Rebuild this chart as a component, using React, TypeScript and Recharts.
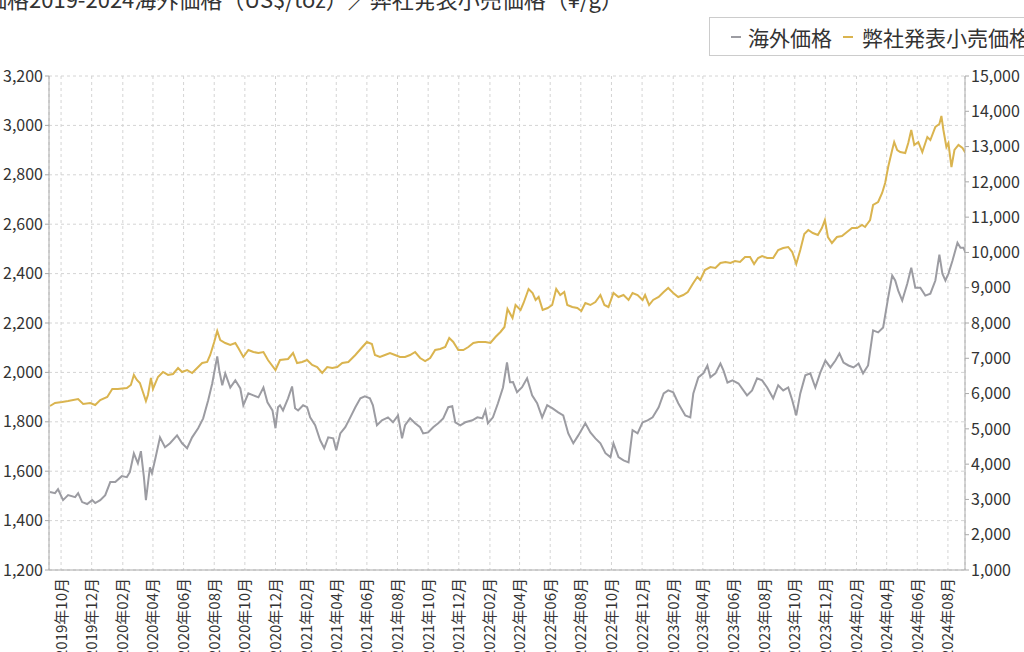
import { LineChart, Line, XAxis, YAxis, CartesianGrid } from 'recharts'

// 海外価格 (US$/toz)
const overseasDates = [
  '2019-09-09', '2019-09-19', '2019-09-25', '2019-10-05', '2019-10-15', '2019-10-29', '2019-11-04', '2019-11-12',
  '2019-11-22', '2019-12-02', '2019-12-08', '2019-12-18', '2019-12-28', '2020-01-07', '2020-01-17', '2020-01-30',
  '2020-02-09', '2020-02-15', '2020-02-23', '2020-03-02', '2020-03-08', '2020-03-14', '2020-03-18', '2020-03-26',
  '2020-03-30', '2020-04-05', '2020-04-15', '2020-04-25', '2020-05-05', '2020-05-19', '2020-05-29', '2020-06-08',
  '2020-06-18', '2020-06-30', '2020-07-10', '2020-07-20', '2020-07-28', '2020-08-07', '2020-08-11', '2020-08-17',
  '2020-08-23', '2020-09-02', '2020-09-12', '2020-09-22', '2020-09-28', '2020-10-08', '2020-10-18', '2020-10-28',
  '2020-11-07', '2020-11-15', '2020-11-25', '2020-12-01', '2020-12-06', '2020-12-10', '2020-12-16', '2020-12-26',
  '2021-01-03', '2021-01-09', '2021-01-15', '2021-01-25', '2021-02-02', '2021-02-08', '2021-02-18', '2021-02-28',
  '2021-03-08', '2021-03-16', '2021-03-26', '2021-04-01', '2021-04-09', '2021-04-19', '2021-04-29', '2021-05-09',
  '2021-05-19', '2021-05-28', '2021-06-07', '2021-06-13', '2021-06-21', '2021-07-01', '2021-07-13', '2021-07-23',
  '2021-08-02', '2021-08-10', '2021-08-16', '2021-08-26', '2021-09-05', '2021-09-15', '2021-09-21', '2021-10-01',
  '2021-10-11', '2021-10-21', '2021-10-31', '2021-11-10', '2021-11-18', '2021-11-24', '2021-12-04', '2021-12-14',
  '2021-12-28', '2022-01-07', '2022-01-17', '2022-01-23', '2022-01-28', '2022-02-07', '2022-02-17', '2022-02-27',
  '2022-03-07', '2022-03-13', '2022-03-19', '2022-03-27', '2022-04-06', '2022-04-16', '2022-04-26', '2022-05-06',
  '2022-05-16', '2022-05-26', '2022-06-05', '2022-06-17', '2022-06-27', '2022-07-07', '2022-07-17', '2022-07-27',
  '2022-08-10', '2022-08-20', '2022-08-30', '2022-09-09', '2022-09-19', '2022-09-29', '2022-10-05', '2022-10-15',
  '2022-10-25', '2022-11-04', '2022-11-12', '2022-11-22', '2022-12-02', '2022-12-12', '2022-12-22', '2023-01-03',
  '2023-01-13', '2023-01-22', '2023-02-01', '2023-02-11', '2023-02-25', '2023-03-07', '2023-03-13', '2023-03-23',
  '2023-04-02', '2023-04-10', '2023-04-16', '2023-04-26', '2023-05-06', '2023-05-12', '2023-05-20', '2023-05-30',
  '2023-06-11', '2023-06-28', '2023-07-08', '2023-07-18', '2023-07-28', '2023-08-07', '2023-08-19', '2023-08-29',
  '2023-09-08', '2023-09-18', '2023-09-26', '2023-10-04', '2023-10-12', '2023-10-22', '2023-11-01', '2023-11-11',
  '2023-11-21', '2023-12-01', '2023-12-11', '2023-12-21', '2023-12-29', '2024-01-06', '2024-01-16', '2024-01-26',
  '2024-02-05', '2024-02-14', '2024-02-24', '2024-03-05', '2024-03-15', '2024-03-25', '2024-04-04', '2024-04-12',
  '2024-04-18', '2024-04-24', '2024-05-02', '2024-05-12', '2024-05-20', '2024-05-28', '2024-06-07', '2024-06-17',
  '2024-06-27', '2024-07-07', '2024-07-15', '2024-07-21', '2024-07-27', '2024-08-02', '2024-08-10', '2024-08-20',
  '2024-08-26', '2024-09-01', '2024-09-05',
]
const overseasPrices = [
  1516, 1511, 1527, 1483, 1503, 1495, 1511, 1475,
  1467, 1483, 1471, 1483, 1503, 1556, 1556, 1580,
  1576, 1596, 1672, 1632, 1681, 1576, 1483, 1616,
  1592, 1644, 1737, 1697, 1713, 1745, 1713, 1693,
  1737, 1774, 1814, 1887, 1955, 2065, 2008, 1948,
  1996, 1939, 1968, 1935, 1867, 1915, 1907, 1899,
  1939, 1879, 1846, 1774, 1859, 1867, 1846, 1895,
  1943, 1855, 1846, 1867, 1859, 1818, 1786, 1725,
  1693, 1737, 1733, 1685, 1753, 1778, 1818, 1859,
  1895, 1903, 1895, 1867, 1786, 1806, 1818, 1798,
  1826, 1733, 1786, 1814, 1794, 1778, 1753, 1757,
  1778, 1794, 1814, 1859, 1863, 1798, 1786, 1798,
  1806, 1818, 1814, 1846, 1794, 1818, 1875, 1939,
  2040, 1960, 1961, 1920, 1940, 1976, 1907, 1875,
  1818, 1867, 1855, 1838, 1826, 1753, 1713, 1745,
  1794, 1757, 1733, 1713, 1673, 1657, 1713, 1657,
  1644, 1636, 1766, 1753, 1798, 1806, 1818, 1859,
  1915, 1927, 1919, 1875, 1826, 1818, 1915, 1980,
  1996, 2028, 1980, 1996, 2036, 2008, 1959, 1968,
  1955, 1907, 1927, 1976, 1968, 1939, 1895, 1948,
  1927, 1939, 1887, 1826, 1915, 1988, 1996, 1939,
  2000, 2048, 2020, 2048, 2077, 2040, 2028, 2020,
  2036, 1996, 2028, 2170, 2162, 2182, 2303, 2392,
  2372, 2331, 2291, 2359, 2424, 2343, 2343, 2311,
  2319, 2372, 2477, 2400, 2372, 2400, 2452, 2525,
  2505, 2505, 2485,
]

// 弊社発表小売価格 (¥/g)
const retailDates = [
  '2019-09-09', '2019-09-19', '2019-10-03', '2019-10-15', '2019-11-04', '2019-11-14', '2019-11-28', '2019-12-08',
  '2019-12-18', '2020-01-01', '2020-01-11', '2020-01-22', '2020-02-09', '2020-02-17', '2020-02-23', '2020-02-29',
  '2020-03-06', '2020-03-12', '2020-03-18', '2020-03-22', '2020-03-28', '2020-04-01', '2020-04-11', '2020-04-21',
  '2020-05-01', '2020-05-11', '2020-05-21', '2020-05-29', '2020-06-08', '2020-06-18', '2020-06-28', '2020-07-08',
  '2020-07-18', '2020-07-24', '2020-08-01', '2020-08-07', '2020-08-13', '2020-08-23', '2020-09-02', '2020-09-12',
  '2020-09-18', '2020-09-28', '2020-10-08', '2020-10-18', '2020-10-28', '2020-11-07', '2020-11-16', '2020-12-01',
  '2020-12-10', '2020-12-26', '2021-01-05', '2021-01-13', '2021-01-23', '2021-02-02', '2021-02-12', '2021-02-22',
  '2021-03-04', '2021-03-14', '2021-03-24', '2021-04-03', '2021-04-13', '2021-04-25', '2021-05-09', '2021-05-23',
  '2021-06-01', '2021-06-11', '2021-06-17', '2021-06-27', '2021-07-07', '2021-07-17', '2021-07-27', '2021-08-06',
  '2021-08-16', '2021-08-26', '2021-09-05', '2021-09-15', '2021-09-25', '2021-10-05', '2021-10-15', '2021-10-25',
  '2021-11-04', '2021-11-12', '2021-11-20', '2021-11-30', '2021-12-10', '2021-12-20', '2021-12-30', '2022-01-09',
  '2022-01-23', '2022-02-02', '2022-02-12', '2022-02-22', '2022-03-02', '2022-03-08', '2022-03-18', '2022-03-24',
  '2022-04-03', '2022-04-09', '2022-04-19', '2022-04-27', '2022-05-03', '2022-05-09', '2022-05-17', '2022-05-27',
  '2022-06-05', '2022-06-13', '2022-06-21', '2022-06-29', '2022-07-05', '2022-07-15', '2022-07-25', '2022-08-02',
  '2022-08-10', '2022-08-20', '2022-08-30', '2022-09-09', '2022-09-17', '2022-09-25', '2022-10-05', '2022-10-15',
  '2022-10-25', '2022-11-04', '2022-11-12', '2022-11-22', '2022-12-02', '2022-12-07', '2022-12-15', '2022-12-23',
  '2023-01-03', '2023-01-13', '2023-01-22', '2023-02-01', '2023-02-11', '2023-02-21', '2023-03-02', '2023-03-13',
  '2023-03-21', '2023-03-27', '2023-04-05', '2023-04-16', '2023-04-26', '2023-05-06', '2023-05-16', '2023-05-26',
  '2023-06-04', '2023-06-14', '2023-06-24', '2023-07-04', '2023-07-12', '2023-07-20', '2023-07-28', '2023-08-07',
  '2023-08-19', '2023-08-29', '2023-09-08', '2023-09-18', '2023-09-26', '2023-10-04', '2023-10-12', '2023-10-20',
  '2023-10-28', '2023-11-06', '2023-11-16', '2023-11-24', '2023-11-30', '2023-12-06', '2023-12-14', '2023-12-24',
  '2024-01-03', '2024-01-13', '2024-01-23', '2024-02-02', '2024-02-12', '2024-02-18', '2024-02-28', '2024-03-05',
  '2024-03-15', '2024-03-23', '2024-03-29', '2024-04-04', '2024-04-12', '2024-04-16', '2024-04-22', '2024-04-28',
  '2024-05-08', '2024-05-14', '2024-05-20', '2024-05-26', '2024-06-03', '2024-06-11', '2024-06-21', '2024-06-27',
  '2024-07-07', '2024-07-15', '2024-07-19', '2024-07-23', '2024-07-29', '2024-08-02', '2024-08-08', '2024-08-14',
  '2024-08-22', '2024-08-30', '2024-09-05',
]
const retailPrices = [
  5648, 5733, 5761, 5790, 5846, 5704, 5733, 5676,
  5818, 5903, 6130, 6130, 6158, 6243, 6527, 6385,
  6300, 6045, 5790, 5960, 6441, 6130, 6470, 6611,
  6527, 6555, 6725, 6611, 6668, 6583, 6725, 6866,
  6895, 7093, 7462, 7773, 7518, 7433, 7377, 7433,
  7292, 7037, 7235, 7178, 7150, 7178, 6951, 6668,
  6951, 6980, 7150, 6866, 6895, 6951, 6810, 6753,
  6583, 6753, 6725, 6753, 6866, 6895, 7093, 7320,
  7462, 7405, 7093, 7037, 7093, 7150, 7093, 7037,
  7037, 7093, 7178, 7008, 6923, 7008, 7235, 7263,
  7320, 7575, 7462, 7235, 7235, 7320, 7433, 7462,
  7462, 7433, 7603, 7745, 7887, 8397, 8142, 8510,
  8368, 8567, 8964, 8850, 8652, 8737, 8368, 8425,
  8510, 8964, 8793, 8878, 8510, 8453, 8425, 8340,
  8567, 8510, 8595, 8793, 8510, 8453, 8850, 8737,
  8793, 8652, 8850, 8793, 8652, 8793, 8510, 8652,
  8737, 8878, 8992, 8850, 8737, 8793, 8878, 9134,
  9304, 9219, 9502, 9587, 9559, 9701, 9729, 9701,
  9757, 9729, 9870, 9870, 9672, 9842, 9899, 9842,
  9842, 10069, 10125, 10154, 10012, 9672, 10069, 10522,
  10636, 10551, 10494, 10692, 10919, 10437, 10267, 10437,
  10466, 10579, 10692, 10692, 10777, 10721, 10919, 11344,
  11429, 11684, 11968, 12421, 12903, 13130, 12903, 12846,
  12818, 13101, 13470, 13045, 13130, 12846, 13271, 13186,
  13555, 13640, 13867, 13470, 12988, 13101, 12421, 12903,
  13045, 12960, 12818,
]

const monthTicks = [
  '2019-10', '2019-12', '2020-02', '2020-04', '2020-06', '2020-08', '2020-10', '2020-12',
  '2021-02', '2021-04', '2021-06', '2021-08', '2021-10', '2021-12', '2022-02', '2022-04',
  '2022-06', '2022-08', '2022-10', '2022-12', '2023-02', '2023-04', '2023-06', '2023-08',
  '2023-10', '2023-12', '2024-02', '2024-04', '2024-06', '2024-08',
]
const leftTicks = [1200, 1400, 1600, 1800, 2000, 2200, 2400, 2600, 2800, 3000, 3200]
const rightTicks = [1000, 2000, 3000, 4000, 5000, 6000, 7000, 8000, 9000, 10000, 11000, 12000, 13000, 14000, 15000]

const FONT = '"Noto Sans CJK JP", "Noto Sans", sans-serif'
const GRAY = '#9c9ca2'
const GOLD = '#dab44f'

const toTime = (d: string) => Date.parse(d)
const overseasData = overseasDates.map((d, i) => ({ t: toTime(d), price: overseasPrices[i] }))
const retailData = retailDates.map((d, i) => ({ t: toTime(d), price: retailPrices[i] }))
const xTicks = monthTicks.map((m) => toTime(m + '-01'))

const monthLabel = (v: number) => {
  const d = new Date(v)
  return `${d.getUTCFullYear()}年${String(d.getUTCMonth() + 1).padStart(2, '0')}月`
}

const MonthTick = ({ x, y, payload }: any) => (
  <text
    transform={`translate(${x - 1},${y}) rotate(-90)`}
    textAnchor="end"
    dominantBaseline="central"
    fontSize={15}
    fontFamily={FONT}
    fill="#333"
  >
    {monthLabel(payload.value)}
  </text>
)

const numFmt = (v: number) => v.toLocaleString('en-US')

export default function App() {
  const tick = { fill: '#333', fontSize: 16, fontFamily: FONT }
  return (
    <div style={{ position: 'fixed', left: 0, top: 0, width: 1024, height: 652, overflow: 'hidden', background: '#fff' }}>
      <LineChart width={1024} height={652} margin={{ top: 76, right: 0, bottom: 0, left: 0 }}>
        <CartesianGrid yAxisId="left" stroke="#d4d4d4" strokeDasharray="3 3" />
        <XAxis
          dataKey="t"
          type="number"
          domain={[toTime('2019-09-07'), toTime('2024-09-04')]}
          allowDataOverflow
          ticks={xTicks}
          tick={<MonthTick />}
          tickLine={false}
          interval={0}
          height={82}
          stroke="#aaa"
        />
        <YAxis
          yAxisId="left"
          orientation="left"
          domain={[1200, 3200]}
          ticks={leftTicks}
          tickFormatter={numFmt}
          tick={tick}
          width={49}
          tickSize={4}
          tickMargin={2}
          stroke="#aaa"
          interval={0}
        />
        <YAxis
          yAxisId="right"
          orientation="right"
          domain={[1000, 15000]}
          ticks={rightTicks}
          tickFormatter={numFmt}
          tick={tick}
          width={59}
          tickSize={4}
          tickMargin={2}
          stroke="#aaa"
          interval={0}
        />
        <Line
          yAxisId="left"
          data={overseasData}
          dataKey="price"
          name="海外価格"
          stroke={GRAY}
          strokeWidth={2}
          dot={false}
          type="linear"
          isAnimationActive={false}
        />
        <Line
          yAxisId="right"
          data={retailData}
          dataKey="price"
          name="弊社発表小売価格"
          stroke={GOLD}
          strokeWidth={2}
          dot={false}
          type="linear"
          isAnimationActive={false}
        />
      </LineChart>

      {/* title and legend sit partly outside the visible frame, as in the source page */}
      <svg width={1024} height={652} style={{ position: 'absolute', left: 0, top: 0, pointerEvents: 'none' }}>
        <text x={-37} y={8} fontSize={22} fontFamily={FONT} fill="#333">
          金価格2019-2024海外価格（US$/toz）／弊社発表小売価格（¥/g）
        </text>
        <rect x={709.5} y={17.5} width={400} height={38} fill="#fff" stroke="#ccc" />
        <line x1={731} x2={741} y1={37} y2={37} stroke={GRAY} strokeWidth={2} />
        <text x={748} y={37} dominantBaseline="central" fontSize={21} fontFamily={FONT} fill="#333">
          海外価格
        </text>
        <line x1={843} x2={853} y1={37} y2={37} stroke={GOLD} strokeWidth={2} />
        <text x={862} y={37} dominantBaseline="central" fontSize={21} fontFamily={FONT} fill="#333">
          弊社発表小売価格
        </text>
      </svg>
    </div>
  )
}
